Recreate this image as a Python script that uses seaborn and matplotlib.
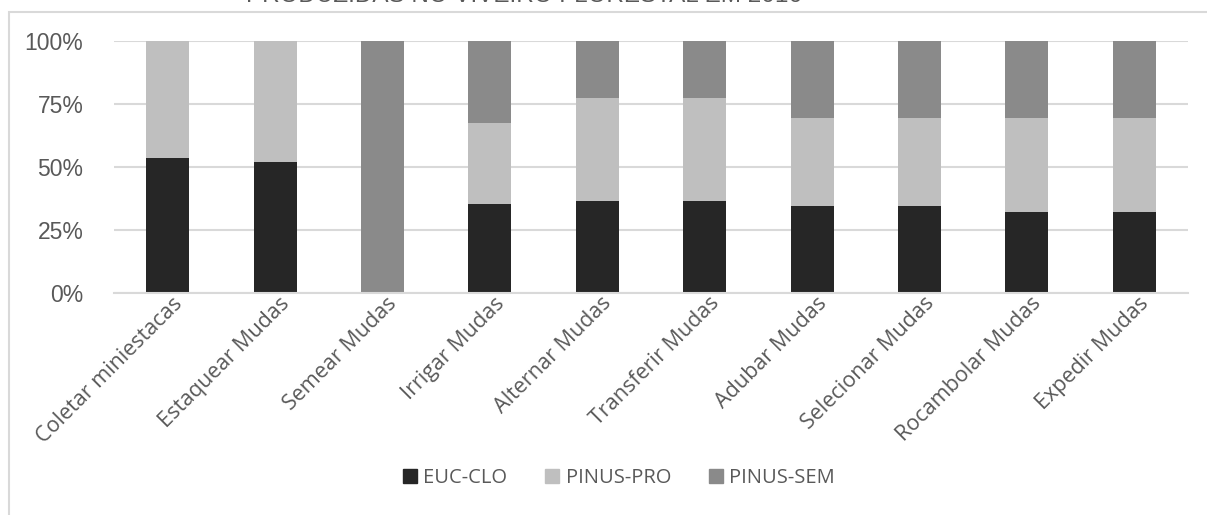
import matplotlib
matplotlib.use("Agg")
import matplotlib.pyplot as plt
import matplotlib.patches as mpatches
import matplotlib.transforms as mtransforms
import seaborn as sns
import pandas as pd
import numpy as np

categories = ["Coletar miniestacas", "Estaquear Mudas", "Semear Mudas", "Irrigar Mudas",
              "Alternar Mudas", "Transferir Mudas", "Adubar Mudas", "Selecionar Mudas",
              "Rocambolar Mudas", "Expedir Mudas"]
euc_clo = [53.7, 52.1, 0.0, 35.4, 36.5, 36.5, 34.6, 34.6, 32.1, 32.1]
pinus_pro = [46.3, 47.9, 0.0, 32.1, 40.8, 40.8, 34.8, 34.8, 37.5, 37.5]
pinus_sem = [0.0, 0.0, 100.0, 32.5, 22.7, 22.7, 30.6, 30.6, 30.4, 30.4]
series_names = ["EUC-CLO", "PINUS-PRO", "PINUS-SEM"]
y_ticks = [0, 25, 50, 75, 100]
y_tick_labels = ["0%", "25%", "50%", "75%", "100%"]
title = "PRODUZIDAS NO VIVEIRO FLORESTAL EM 2016"

colors = {"EUC-CLO": "#262626", "PINUS-PRO": "#BFBFBF", "PINUS-SEM": "#8A8A8A"}

sns.set_theme(style="white")
plt.rcParams["font.family"] = ["Liberation Sans", "DejaVu Sans"]

df = pd.DataFrame({"cat": categories, "EUC-CLO": euc_clo, "PINUS-PRO": pinus_pro, "PINUS-SEM": pinus_sem})
df["c1"] = df["EUC-CLO"]
df["c2"] = df["EUC-CLO"] + df["PINUS-PRO"]
df["c3"] = df["c2"] + df["PINUS-SEM"]

fig = plt.figure(figsize=(12.07, 5.15), dpi=100)
ax = fig.add_axes([114 / 1207, 1 - 293 / 515, (1188 - 114) / 1207, (293 - 41) / 515])

for col, name in [("c3", "PINUS-SEM"), ("c2", "PINUS-PRO"), ("c1", "EUC-CLO")]:
    sns.barplot(data=df, x="cat", y=col, color=colors[name], width=0.4, ax=ax,
                saturation=1, linewidth=0, zorder=3)

ax.set_ylim(0, 100)
ax.set_xlim(-0.5, len(categories) - 0.5)
ax.set_yticks(y_ticks)
ax.set_yticklabels(y_tick_labels, fontsize=16.5, color="#595959", family=["Liberation Sans", "DejaVu Sans"])
ax.tick_params(axis="y", length=0, pad=22)
ax.tick_params(axis="x", length=0, pad=0)
ax.set_xticks(range(len(categories)))
ax.set_xticklabels(categories, rotation=45, ha="right", rotation_mode="anchor",
                   fontsize=15.5, color="#595959", family=["Open Sans", "DejaVu Sans"])
offset = mtransforms.ScaledTranslation(4 / 100, 0, fig.dpi_scale_trans)
for lbl in ax.get_xticklabels():
    lbl.set_transform(lbl.get_transform() + offset)
ax.set_xlabel("")
ax.set_ylabel("")
ax.yaxis.grid(True, color="#D9D9D9", linewidth=1.5, zorder=0)
ax.set_axisbelow(True)
for s in ["top", "right", "left"]:
    ax.spines[s].set_visible(False)
ax.spines["bottom"].set_color("#D9D9D9")
ax.spines["bottom"].set_linewidth(1.5)
ax.spines["bottom"].set_zorder(4)

handles = [mpatches.Patch(color=colors[n], label=n) for n in series_names]
leg = fig.legend(handles=handles, loc="center", bbox_to_anchor=(619 / 1207, 1 - 478 / 515),
                 ncol=3, frameon=False, handlelength=0.7, handleheight=0.7, handletextpad=0.3,
                 columnspacing=1.9, prop={"family": ["Open Sans", "DejaVu Sans"], "size": 14.5})
for t in leg.get_texts():
    t.set_color("#595959")

# outer chart frame
frame = mpatches.Rectangle((9 / 1207, -0.1), 1.2, 1 - 12 / 515 + 0.1, transform=fig.transFigure,
                           fill=False, edgecolor="#D9D9D9", linewidth=1.5)
fig.patches.append(frame)

fig.text(524 / 1207, 1 + 4 / 515, title, ha="center", va="center", fontsize=17.5, color="#595959",
         family=["Liberation Sans", "DejaVu Sans"])

fig.savefig("out.png", dpi=100)
